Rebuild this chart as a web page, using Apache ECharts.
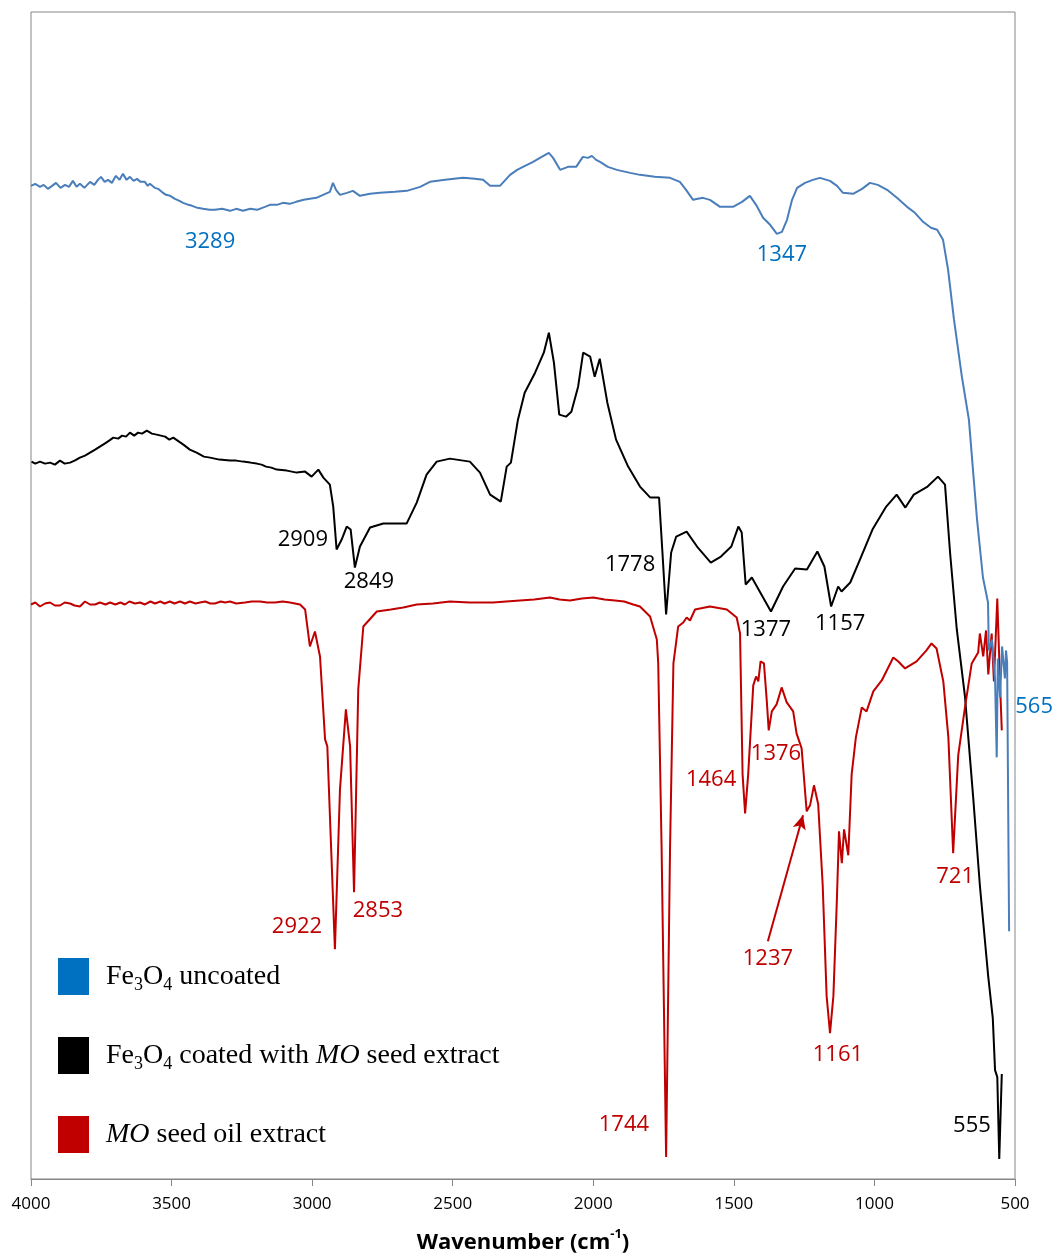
<!DOCTYPE html>
<html>
<head>
<meta charset="utf-8">
<script src="https://cdn.jsdelivr.net/npm/echarts@6/dist/echarts.min.js"></script>
<style>
html,body{margin:0;padding:0;background:#fff;}
#chart{width:1057px;height:1259px;}
</style>
</head>
<body>
<div id="chart"></div>
<script>
// ---- DATA (wavenumber cm-1, offset transmittance a.u.) ----
const seriesNames = ['Fe3O4 uncoated', 'Fe3O4 coated with MO seed extract', 'MO seed oil extract'];
const xTicks = [4000, 3500, 3000, 2500, 2000, 1500, 1000, 500];

const uncoatedData = [
[4000,99.4],[3985,99.6],[3968,99.3],[3955,99.5],[3940,99.1],[3925,99.4],[3911,99.7],[3895,99.2],
[3879,99.5],[3865,99.3],[3851,99.9],[3838,99.3],[3826,99.6],[3810,99.2],[3790,99.8],[3775,99.5],
[3762,100.0],[3751,100.3],[3738,99.8],[3726,100.0],[3712,99.7],[3698,100.4],[3685,100.0],[3673,100.6],
[3660,100.0],[3648,100.3],[3635,99.9],[3623,100.1],[3610,99.8],[3595,99.8],[3585,99.4],[3577,99.6],
[3560,99.2],[3548,99.1],[3535,98.8],[3520,98.5],[3505,98.4],[3488,98.1],[3472,97.9],[3459,97.7],
[3440,97.5],[3427,97.4],[3408,97.2],[3388,97.1],[3365,97.0],[3346,97.0],[3320,97.1],[3292,96.9],
[3270,97.1],[3246,96.9],[3220,97.1],[3196,97.0],[3168,97.3],[3150,97.5],[3125,97.5],[3104,97.7],
[3080,97.6],[3057,97.8],[3030,98.0],[3008,98.1],[2985,98.2],[2961,98.5],
[2937,98.8],[2926,99.7],[2915,99.0],[2901,98.5],[2876,98.7],[2855,98.9],[2830,98.4],[2794,98.6],
[2759,98.7],[2705,98.8],[2663,98.9],[2616,99.3],[2581,99.8],[2527,100.0],[2463,100.2],[2421,100.1],
[2392,100.0],[2367,99.4],[2332,99.4],[2296,100.5],[2271,101.0],[2243,101.4],[2214,101.8],[2190,102.2],
[2158,102.7],[2143,102.2],[2118,101.0],[2090,101.3],[2061,101.3],[2037,102.3],[2019,102.2],[2005,102.4],
[1990,102.0],[1976,101.8],[1948,101.3],[1916,101.0],[1869,100.7],[1834,100.5],[1781,100.3],[1727,100.2],
[1692,99.8],[1670,99.0],[1645,98.0],[1628,98.1],[1610,98.2],[1585,98.0],[1549,97.3],[1503,97.3],
[1471,97.8],[1443,98.4],[1421,97.5],[1396,96.2],[1371,95.5],[1347,94.6],[1329,94.8],[1311,96.0],
[1293,98.0],[1275,99.2],[1247,99.7],[1219,100.0],[1194,100.2],[1158,99.9],[1133,99.4],[1112,98.7],
[1076,98.6],[1044,99.1],[1016,99.7],[988,99.5],[955,99.0],[920,98.2],[884,97.3],[856,96.7],
[827,95.8],[799,95.2],[777,95.0],[756,94.0],[738,91.0],[717,86.0],[689,80.3],[664,76.0],
[635,66.0],[614,60.2],[596,57.7],[593,52.9],[582,54.0],[571,50.1],[565,42.2],[561,52.1],
[553,48.2],[546,53.3],[536,50.1],[532,52.9],[528,51.7],[521,24.8]
];

const coatedData = [
[3998,71.8],[3985,71.6],[3968,71.8],[3950,71.6],[3932,71.7],[3915,71.5],[3897,71.9],[3880,71.6],
[3861,71.7],[3845,71.9],[3826,72.2],[3808,72.4],[3790,72.7],[3772,73.0],[3755,73.3],[3738,73.6],
[3722,73.9],[3707,74.2],[3690,74.1],[3676,74.4],[3662,74.3],[3648,74.7],[3633,74.4],[3619,74.7],
[3605,74.6],[3588,74.9],[3570,74.6],[3553,74.5],[3538,74.4],[3523,74.3],[3508,74.0],[3494,74.2],
[3458,73.5],[3435,73.0],[3411,72.7],[3385,72.3],[3363,72.2],[3330,72.0],[3292,71.9],[3270,71.9],
[3246,71.8],[3220,71.7],[3197,71.6],[3180,71.5],[3164,71.3],[3145,71.2],[3126,71.0],[3090,70.9],
[3055,70.7],[3025,70.8],[3002,70.3],[2978,71.0],[2960,70.2],[2937,69.5],[2925,67.3],[2913,63.0],
[2895,64.0],[2877,65.3],[2863,65.0],[2848,61.2],[2830,63.3],[2794,65.2],[2747,65.6],[2664,65.6],
[2628,67.7],[2593,70.5],[2557,71.8],[2510,72.1],[2439,71.8],[2403,70.7],[2367,68.5],[2329,67.8],
[2308,71.3],[2293,71.7],[2268,76.0],[2244,78.7],[2207,80.7],[2176,82.7],[2158,84.7],[2140,81.7],
[2121,76.5],[2097,76.3],[2078,76.8],[2054,79.3],[2036,82.7],[2011,82.3],[1995,80.3],[1977,82.1],
[1950,77.7],[1919,74.0],[1876,71.3],[1834,69.3],[1797,68.2],[1766,68.2],[1754,62.7],[1741,56.5],
[1723,62.7],[1705,64.3],[1668,64.8],[1631,63.3],[1582,61.7],[1546,62.3],[1509,63.3],[1484,65.3],
[1472,64.7],[1458,59.5],[1436,60.2],[1398,58.3],[1368,56.8],[1325,59.3],[1282,61.1],[1240,61.0],
[1203,62.8],[1178,61.3],[1154,57.3],[1129,59.3],[1117,58.8],[1086,59.7],[1056,61.7],[1007,65.0],
[958,67.3],[921,68.5],[890,67.2],[860,68.5],[811,69.3],[774,70.3],[749,69.5],[731,62.7],
[707,55.0],[678,48.3],[649,38.3],[625,29.4],[613,25.7],[595,20.2],[579,16.1],[571,10.9],
[563,10.2],[556,2.0],[547,10.5]
];

const oilData = [
[4000,57.5],[3985,57.7],[3968,57.3],[3950,57.6],[3932,57.7],[3915,57.4],[3897,57.4],[3880,57.7],
[3861,57.6],[3845,57.4],[3826,57.3],[3808,57.8],[3790,57.5],[3772,57.5],[3755,57.7],[3735,57.5],
[3719,57.7],[3700,57.5],[3682,57.7],[3666,57.5],[3650,57.8],[3630,57.6],[3612,57.7],[3595,57.5],
[3575,57.8],[3559,57.6],[3540,57.8],[3525,57.6],[3506,57.8],[3490,57.6],[3470,57.8],[3452,57.6],
[3435,57.8],[3415,57.6],[3399,57.7],[3380,57.8],[3362,57.6],[3346,57.6],[3325,57.8],[3310,57.7],
[3292,57.8],[3270,57.6],[3239,57.7],[3215,57.8],[3185,57.8],[3160,57.7],[3132,57.7],[3105,57.8],
[3079,57.7],[3043,57.5],[3025,57.0],[3008,53.3],
[2990,54.8],[2972,52.3],[2954,44.0],[2946,43.3],[2919,23.0],[2901,39.0],[2880,47.0],[2865,43.3],
[2851,28.7],[2836,49.0],[2818,55.3],[2770,56.8],[2720,57.0],[2676,57.2],[2628,57.5],[2570,57.6],
[2510,57.8],[2440,57.7],[2356,57.7],[2310,57.8],[2261,57.9],[2210,58.0],[2154,58.2],[2120,58.0],
[2083,57.9],[2040,58.1],[2000,58.2],[1960,58.0],[1923,57.9],[1890,57.8],[1858,57.5],[1834,57.3],[1798,56.3],
[1774,54.0],[1769,51.6],[1757,33.1],[1741,2.2],[1727,33.1],[1715,51.6],[1698,55.3],[1680,55.7],
[1668,56.2],[1656,55.9],[1638,57.0],[1585,57.3],[1525,57.0],[1490,56.2],[1478,54.6],[1469,40.5],
[1460,36.6],[1449,40.5],[1431,49.4],[1421,50.3],[1413,49.8],[1405,51.8],[1393,51.6],[1383,47.9],
[1376,44.9],[1365,46.8],[1348,47.5],[1330,49.2],[1312,47.7],[1289,46.8],[1277,44.6],[1259,43.1],
[1241,36.8],[1229,37.4],[1215,39.4],[1200,37.5],[1184,29.4],[1170,18.3],[1158,14.6],[1146,18.3],
[1134,27.6],[1126,34.8],[1116,31.6],[1108,35.0],[1093,32.4],[1081,40.5],[1066,44.2],[1045,47.2],
[1028,46.8],[1004,48.8],[974,49.9],[933,52.2],[915,51.8],[891,51.1],[850,51.8],[815,52.9],
[797,53.6],[779,53.1],[755,49.8],[737,44.2],[720,32.6],[702,42.4],[678,47.2],[654,51.6],
[631,52.7],[625,54.6],[613,52.3],[603,54.9],[595,50.5],[583,54.6],[575,49.8],[563,58.1],
[553,49.4],[547,44.9]
];

// peak annotations: [x, y, text]
const uncoatedLabels = [[3363,93.8,'3289'],[1329,92.5,'1347'],[432,47.3,'565']];
const coatedLabels = [[3033,64.0,'2909'],[2798,59.8,'2849'],[1869,61.5,'1778'],[1386,55.0,'1377'],[1122,55.6,'1157'],[653,5.3,'555']];
const oilLabels = [[3054,25.2,'2922'],[2766,26.8,'2853'],[1891,5.4,'1744'],[1581,40.0,'1464'],[1350,42.6,'1376'],[1379,22.0,'1237'],[1130,12.4,'1161'],[713,30.3,'721']];
const arrow1237 = [[1379,23.8],[1254,36.4]];

// ---- CHART ----
const BLUE_LINE = '#4A7EBB', BLUE_TXT = '#0070C0', RED = '#C00000', BLACK = '#000000';
const chart = echarts.init(document.getElementById('chart'), null, {renderer: 'canvas'});

function labelSeries(data, color, extra) {
  return Object.assign({
    type: 'scatter',
    data: data,
    symbol: 'circle',
    symbolSize: 1,
    itemStyle: {color: 'rgba(0,0,0,0)', opacity: 1},
    clip: false,
    silent: true,
    z: 5,
    label: {
      show: true,
      position: 'inside',
      formatter: p => p.value[2],
      color: color,
      opacity: 1,
      fontFamily: 'Open Sans',
      fontSize: 22
    }
  }, extra || {});
}

const legendRich = {
  g: {width: 12},
  n: {fontFamily: 'Liberation Serif', fontSize: 28, color: '#000', lineHeight: 36},
  i: {fontFamily: 'Liberation Serif', fontSize: 28, color: '#000', lineHeight: 36, fontStyle: 'italic'},
  s: {fontFamily: 'Liberation Serif', fontSize: 18, color: '#000', lineHeight: 21, verticalAlign: 'bottom'}
};
const legendFmt = {
  'Fe3O4 uncoated': '{g|}{n|Fe}{s|3}{n|O}{s|4}{n| uncoated}',
  'Fe3O4 coated with MO seed extract': '{g|}{n|Fe}{s|3}{n|O}{s|4}{n| coated with }{i|MO}{n| seed extract}',
  'MO seed oil extract': '{g|}{i|MO}{n| seed oil extract}'
};

chart.setOption({
  animation: false,
  backgroundColor: '#ffffff',
  grid: {left: 31, right: 42, top: 12, bottom: 79, show: true, borderColor: '#868686', borderWidth: 1},
  legend: {
    orient: 'vertical',
    left: 53,
    top: 953,
    itemWidth: 31,
    itemHeight: 37,
    itemGap: 42,
    selectedMode: false,
    data: [
      {name: seriesNames[0], icon: 'rect', itemStyle: {color: BLUE_TXT}},
      {name: seriesNames[1], icon: 'rect', itemStyle: {color: BLACK}},
      {name: seriesNames[2], icon: 'rect', itemStyle: {color: RED}}
    ],
    formatter: name => legendFmt[name],
    textStyle: {rich: legendRich}
  },
  xAxis: {
    type: 'value',
    inverse: true,
    min: 500,
    max: 4000,
    interval: 500,
    name: '{b|Wavenumber (cm}{sup|-1}{b|)}',
    nameLocation: 'middle',
    nameGap: 49,
    nameTextStyle: {
      rich: {
        b: {fontFamily: 'Open Sans', fontWeight: 'bold', fontSize: 22, color: '#000', lineHeight: 30},
        sup: {fontFamily: 'Open Sans', fontWeight: 'bold', fontSize: 13, color: '#000', lineHeight: 30, verticalAlign: 'top'}
      }
    },
    axisLine: {show: true, lineStyle: {color: '#868686', width: 1}},
    axisTick: {show: true, length: 7, lineStyle: {color: '#868686'}},
    axisLabel: {
      margin: 17,
      color: '#000',
      fontFamily: 'Liberation Sans Narrow, Open Sans',
      fontSize: 17,
      formatter: v => String(v)
    },
    splitLine: {show: false}
  },
  yAxis: {
    type: 'value',
    min: 0,
    max: 116.8,
    show: false,
    splitLine: {show: false}
  },
  series: [
    {name: seriesNames[0], type: 'line', data: uncoatedData, showSymbol: false, symbol: 'none',
     lineStyle: {color: BLUE_LINE, width: 2}, itemStyle: {color: BLUE_LINE}, z: 3},
    {name: seriesNames[1], type: 'line', data: coatedData, showSymbol: false, symbol: 'none',
     lineStyle: {color: BLACK, width: 2}, itemStyle: {color: BLACK}, z: 2},
    {name: seriesNames[2], type: 'line', data: oilData, showSymbol: false, symbol: 'none',
     lineStyle: {color: RED, width: 2}, itemStyle: {color: RED}, z: 2},
    labelSeries(uncoatedLabels, BLUE_TXT),
    labelSeries(coatedLabels, BLACK),
    labelSeries(oilLabels, RED, {
      markLine: {
        silent: true,
        symbol: ['none', 'arrow'],
        symbolSize: [10, 14],
        label: {show: false},
        lineStyle: {color: RED, width: 2, type: 'solid'},
        data: [[{coord: arrow1237[0]}, {coord: arrow1237[1]}]]
      }
    })
  ]
});
</script>
</body>
</html>
